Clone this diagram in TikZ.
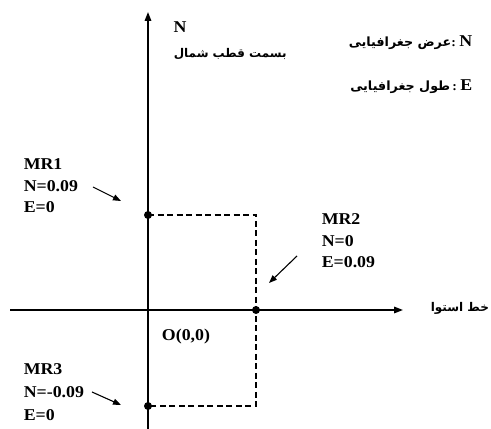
\documentclass[tikz,border=0pt]{standalone}
\usepackage{fontspec}
\setmainfont{Liberation Serif}[FakeStretch=1.08]
\newfontfamily\farsi[Script=Arabic]{DejaVu Sans}
\TeXXeTstate=1
\usetikzlibrary{arrows.meta}
\newcommand{\fa}[1]{{\farsi\bfseries\beginR #1\endR}}

\begin{document}
\begin{tikzpicture}[x=1pt,y=1pt,line width=1.6pt,
  axis/.style={-{Triangle[length=9pt,width=6.5pt]}},
  guide/.style={line width=1.3pt,dash pattern=on 6pt off 3.5pt},
  pointer/.style={line width=1.1pt,-{Triangle[length=8pt,width=6pt]}},
  dot/.style={circle,fill,inner sep=0pt,minimum size=8pt},
  latin/.style={inner sep=0pt,font=\fontsize{16.5}{20}\selectfont\bfseries},
  coordlabel/.style={align=left,anchor=north west,inner sep=0pt,font=\fontsize{16.5}{21.5}\selectfont\bfseries},
  falabel/.style={inner sep=0pt,font=\fontsize{12}{14}\selectfont}]
  \useasboundingbox (0,0) rectangle (491,429);
  % axes
  \coordinate (nbot) at (148,0);
  \coordinate (ntop) at (148,417);
  \coordinate (ewest) at (10,119);
  \coordinate (eeast) at (403,119);
  \coordinate (O) at (148,119);
  % points
  \node[dot] (mrone) at (148,214) {};
  \node[dot] (mrtwo) at (256,119) {};
  \node[dot] (mrthree) at (148,23) {};
  \draw[axis] (nbot) -- (ntop);
  \draw[axis] (ewest) -- (eeast);
  \draw[guide] (mrone.center) -- (mrone.center -| mrtwo) -- (mrthree.center -| mrtwo) -- (mrthree.center);
  % axis labels
  \node[latin] (nlbl) at (180,402) {N};
  \node[falabel,anchor=west] (pole) at (173,375) {\fa{بسمت قطب شمال}};
  \node[falabel,anchor=west] (equator) at (430,121) {\fa{خط استوا}};
  \node[latin] (olbl) at (186,92) {O(0,0)};
  % legend
  \node[falabel,anchor=east,font=\fontsize{12.7}{14}\selectfont] (leglat) at (473,386) {\fa{عرض جغرافیایی}{\bfseries:}\ {\fontsize{16.5}{20}\selectfont\bfseries N}};
  \node[falabel,anchor=east,font=\fontsize{12.7}{14}\selectfont] (leglon) at (473,342) {\fa{طول جغرافیایی}\,{\bfseries:}\ {\fontsize{16.5}{20}\selectfont\bfseries E}};
  % point labels
  \node[coordlabel] (lblone) at (23,271) {MR1\\N=0.09\\E=0};
  \node[coordlabel] (lbltwo) at (321,216) {MR2\\N=0\\E=0.09};
  \node[coordlabel,font=\fontsize{16.5}{23}\selectfont\bfseries] (lblthree) at (23,66) {MR3\\N=-0.09\\E=0};
  \coordinate (aone) at (93,242);
  \coordinate (bone) at (121,228);
  \coordinate (atwo) at (297,173);
  \coordinate (btwo) at (269,146);
  \coordinate (athree) at (92,37);
  \coordinate (bthree) at (121,24);
  \draw[pointer] (aone) -- (bone);
  \draw[pointer] (atwo) -- (btwo);
  \draw[pointer] (athree) -- (bthree);
\end{tikzpicture}
\end{document}
